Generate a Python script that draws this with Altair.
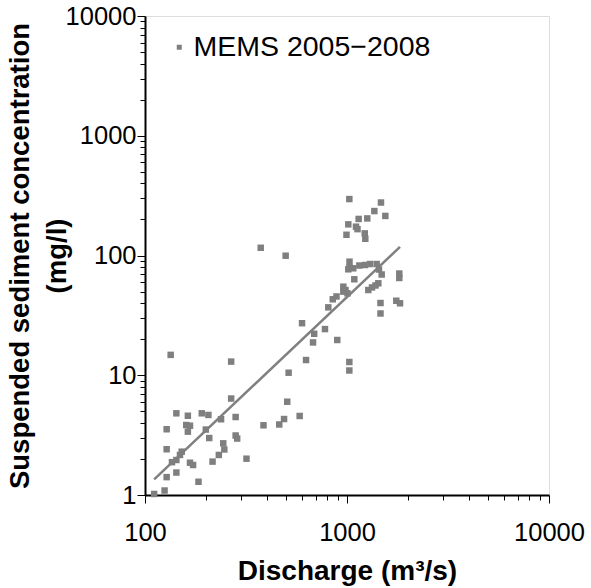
import altair as alt
import pandas as pd

# Scatter data (discharge m3/s, SSC mg/l)
discharge = [111, 125, 128, 143, 184, 128, 136, 143, 152, 149, 167, 173, 128, 143, 163,
             191, 206, 160, 167, 163, 200, 208, 216, 232, 244, 247, 238, 267, 281, 281,
             286, 318, 386, 462, 488, 506, 583, 514, 627, 134, 267, 599, 679, 688, 778,
             895, 1027, 1027, 808, 887, 850, 959, 959, 983, 1006, 1087, 1029, 1029, 1015, 1074,
             1151, 1228, 1300, 1403, 1440, 1485, 1815, 1815, 1275, 1330, 1384, 1429, 1465, 1465, 1754,
             1830, 1027, 1473, 1366, 1548, 1142, 1260, 1015, 1108, 1127, 994, 1224, 1232, 374, 497]
ssc = [1.02, 1.09, 1.41, 1.54, 1.29, 2.41, 1.88, 1.96, 2.30, 2.16, 1.86, 1.78, 3.54, 4.81, 4.59,
       4.81, 4.66, 3.84, 3.79, 3.38, 3.52, 2.99, 1.90, 2.16, 2.70, 2.40, 4.29, 6.39, 4.48, 3.14,
       2.96, 2.01, 3.82, 3.88, 4.31, 6.01, 4.57, 10.5, 13.4, 14.8, 13.0, 27.2, 18.8, 22.2, 24.3,
       19.7, 12.9, 10.96, 36.9, 45.5, 43.1, 54.9, 49.9, 51.5, 48.3, 63.3, 88.8, 79.4, 76.7, 78.2,
       82.5, 83.3, 84.9, 84.9, 76.4, 69.4, 70.7, 64.9, 51.5, 54.1, 56.2, 58.6, 40.1, 32.8, 41.9,
       39.9, 296, 277, 235, 214, 202, 204, 182, 174, 166, 149, 153, 138, 116, 99.6]
series_name = "MEMS 2005\u22122008"

# Fitted rating curve end points
fit_x = [111, 1830]
fit_y = [1.35, 118]

x_ticks = [100, 200, 300, 400, 500, 600, 700, 800, 900,
           1000, 2000, 3000, 4000, 5000, 6000, 7000, 8000, 9000, 10000]
y_ticks = [1, 2, 3, 4, 5, 6, 7, 8, 9, 10, 20, 30, 40, 50, 60, 70, 80, 90,
           100, 200, 300, 400, 500, 600, 700, 800, 900,
           1000, 2000, 3000, 4000, 5000, 6000, 7000, 8000, 9000, 10000]
x_major = [100, 1000, 10000]
y_major = [1, 10, 100, 1000, 10000]

pts = pd.DataFrame({"q": discharge, "c": ssc, "series": series_name})
fit = pd.DataFrame({"q": fit_x, "c": fit_y})

FONT = "Liberation Sans"


def major_test(vals):
    return "indexof([" + ",".join(str(v) for v in vals) + "], datum.value) >= 0"


x_axis = alt.Axis(
    values=x_ticks, format="d",
    labelExpr=major_test(x_major) + " ? datum.label : ''",
    tickSize={"condition": {"test": major_test(x_major), "value": 8}, "value": 5},
    labelFlush=False, labelOverlap=False, grid=False,
    domainColor="black", domainWidth=2, tickColor="black", tickWidth=1,
    labelFont=FONT, labelFontSize=25.5, labelColor="black", labelPadding=17,
    title="Discharge (m\u00b3/s)", titleFont=FONT, titleFontSize=28,
    titleFontWeight="bold", titleColor="black", titlePadding=12,
)
y_axis = alt.Axis(
    values=y_ticks, format="d",
    labelExpr=major_test(y_major) + " ? datum.label : ''",
    tickSize={"condition": {"test": major_test(y_major), "value": 8}, "value": 5},
    labelFlush=False, labelOverlap=False, grid=False,
    domainColor="black", domainWidth=2, tickColor="black", tickWidth=1,
    labelFont=FONT, labelFontSize=25.5, labelColor="black", labelPadding=1,
    title=["Suspended sediment concentration", "(mg/l)"], titleFont=FONT,
    titleFontSize=27.5, titleFontWeight="bold", titleColor="black",
    titlePadding=-6, titleLineHeight=37,
)

xs = alt.Scale(type="log", domain=[100, 10000], nice=False)
ys = alt.Scale(type="log", domain=[1, 10000], nice=False)

points = alt.Chart(pts).mark_square(size=42, opacity=1).encode(
    x=alt.X("q:Q", scale=xs, axis=x_axis),
    y=alt.Y("c:Q", scale=ys, axis=y_axis),
    color=alt.Color("series:N", scale=alt.Scale(range=["#7f7f7f"]),
                    legend=alt.Legend(orient="none", legendX=20, legendY=17,
                                      title=None, labelFont=FONT, labelFontSize=28.5,
                                      labelColor="black", symbolSize=25, labelLimit=0,
                                      symbolType="square", labelOffset=0)),
)

line = alt.Chart(fit).mark_line(color="#808080", strokeWidth=2.5).encode(
    x=alt.X("q:Q", scale=xs),
    y=alt.Y("c:Q", scale=ys),
)

chart = alt.layer(line, points).properties(
    width=404, height=479,
    autosize=alt.AutoSizeParams(type="none"),
    padding={"left": 145, "top": 16, "right": 42, "bottom": 93},
).configure_view(stroke="#555555", strokeWidth=1.5).configure(background="white")

chart.save("out.html", embed_options={"renderer": "svg", "actions": False})
